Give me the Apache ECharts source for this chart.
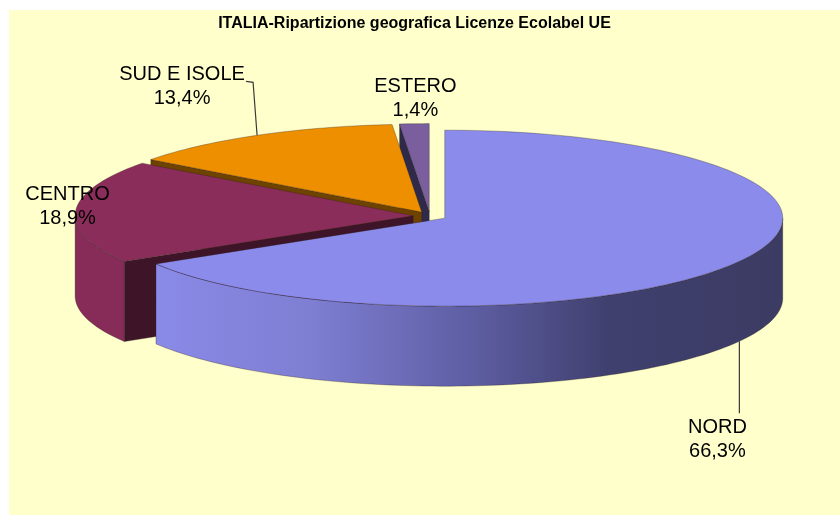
<!DOCTYPE html>
<html><head><meta charset="utf-8">
<script src="https://cdn.jsdelivr.net/npm/echarts@6/dist/echarts.min.js"></script>
<style>html,body{margin:0;padding:0;background:#fff}#c{width:840px;height:515px}</style>
</head><body><div id="c"></div>
<script>
// ---- data ----
const categories = ['NORD', 'CENTRO', 'SUD E ISOLE', 'ESTERO'];
const values = [66.3, 18.9, 13.4, 1.4];
const titleText = 'ITALIA-Ripartizione geografica Licenze Ecolabel UE';

// ---- style / layout ----
const geo = { cx: 430, cy: 216, rx: 338, ry: 88, depth: 80, explode: 0.05 };
const topColors = ['#8B8BEB', '#8B2D5A', '#EE8F00', '#7A5E9E'];
const faceColors = ['#3B3B63', '#3E1528', '#6E4300', '#2F2A4A'];
const wallColors = [
  { type: 'linear', x: 156, y: 0, x2: 783, y2: 0, global: true,
    colorStops: [{ offset: 0, color: '#8A8AE8' }, { offset: 0.25, color: '#7E7ED2' },
                 { offset: 0.5, color: '#5E5EA4' }, { offset: 0.72, color: '#40406F' },
                 { offset: 1, color: '#3B3B63' }] },
  '#872B58', '#B86E00', '#5E4A85'];
const labelOffsets = [[-22, 178], [-8, -5], [-75, -49], [1, -25]];
const leaderOffsets = [[[0, 80], [0, 152]], null, [[0, 0], [-4, -53], [-11, -54]], null];

const total = values.reduce((a, b) => a + b, 0);
const rad = d => d * Math.PI / 180;
function pt(ax, ay, th, dz) {
  return [ax + geo.rx * Math.cos(rad(th)), ay - geo.ry * Math.sin(rad(th)) + (dz || 0)];
}
function arc(ax, ay, a1, a2, dz) {
  const n = Math.max(2, Math.ceil(Math.abs(a2 - a1) / 1.5));
  const p = [];
  for (let i = 0; i <= n; i++) p.push(pt(ax, ay, a1 + (a2 - a1) * i / n, dz));
  return p;
}
function fmt(v) { return v.toFixed(1).replace('.', ',') + '%'; }

function renderItem(params, api) {
  const idx = params.dataIndex;
  let before = 0;
  for (let i = 0; i < idx; i++) before += api.value(0, i);
  const v = api.value(0, idx);
  const s = 90 - before / total * 360;
  const e = 90 - (before + v) / total * 360;
  const mid = (s + e) / 2;
  // draw rank: back slices (larger sin of mid) first
  let rank = 0;
  const mySin = Math.sin(rad(mid));
  let acc = 0;
  for (let i = 0; i < values.length; i++) {
    const vi = api.value(0, i);
    const mi = 90 - (acc + vi / 2) / total * 360;
    acc += vi;
    if (Math.sin(rad(mi)) > mySin) rank++;
  }
  const ax = geo.cx + geo.explode * geo.rx * Math.cos(rad(mid));
  const ay = geo.cy - geo.explode * geo.ry * Math.sin(rad(mid));
  const D = geo.depth;
  const edge = { stroke: 'rgba(40,30,30,0.45)', lineWidth: 0.7 };
  const children = [];
  // outer wall (front half only)
  for (let k = -1; k <= 1; k++) {
    const lo = Math.max(e, -180 + 360 * k), hi = Math.min(s, 360 * k);
    if (hi > lo) {
      const pts = arc(ax, ay, lo, hi, 0).concat(arc(ax, ay, hi, lo, D));
      children.push({ type: 'polygon', z2: rank * 10 + 1, shape: { points: pts },
        style: Object.assign({ fill: wallColors[idx] }, edge) });
    }
  }
  // radial faces
  function face(th) {
    const r = pt(ax, ay, th, 0);
    return { type: 'polygon', z2: rank * 10 + 1,
      shape: { points: [[ax, ay], r, [r[0], r[1] + D], [ax, ay + D]] },
      style: Object.assign({ fill: faceColors[idx] }, edge) };
  }
  if (Math.cos(rad(s)) < -1e-6) children.push(face(s));
  if (Math.cos(rad(e)) > 1e-6) children.push(face(e));
  // top
  children.push({ type: 'polygon', z2: rank * 10 + 5,
    shape: { points: [[ax, ay]].concat(arc(ax, ay, s, e, 0)) },
    style: Object.assign({ fill: topColors[idx] }, edge) });
  // label + leader
  const rim = pt(ax, ay, mid, 0);
  const lo = labelOffsets[idx];
  children.push({ type: 'text', z2: 200, x: rim[0] + lo[0], y: rim[1] + lo[1],
    style: { text: categories[idx] + '\n' + fmt(v), align: 'center', verticalAlign: 'middle',
      textAlign: 'center', textVerticalAlign: 'middle',
      font: '20px "Liberation Sans", Arial, sans-serif', lineHeight: 24, fill: '#000' } });
  const ld = leaderOffsets[idx];
  if (ld) {
    children.push({ type: 'polyline', z2: 150,
      shape: { points: ld.map(p => [rim[0] + p[0], rim[1] + p[1]]) },
      style: { stroke: '#3a3a3a', lineWidth: 1.2, fill: null } });
  }
  return { type: 'group', children: children };
}

const chart = echarts.init(document.getElementById('c'), null, { renderer: 'canvas' });
chart.setOption({
  backgroundColor: '#ffffff',
  animation: false,
  graphic: [
    { type: 'rect', z: -5, silent: true, shape: { x: 9, y: 10, width: 831, height: 505 }, style: { fill: '#FFFFCC' } },
    { type: 'text', z: 10, x: 414.5, y: 24,
      style: { text: titleText, align: 'center', verticalAlign: 'middle', textAlign: 'center', textVerticalAlign: 'middle',
        font: 'bold 16px "Liberation Sans", Arial, sans-serif', fill: '#000' } }
  ],
  series: [{
    type: 'custom',
    coordinateSystem: 'none',
    silent: true,
    renderItem: renderItem,
    data: categories.map((c, i) => ({ name: c, value: [values[i]] }))
  }]
});
</script>
</body></html>
